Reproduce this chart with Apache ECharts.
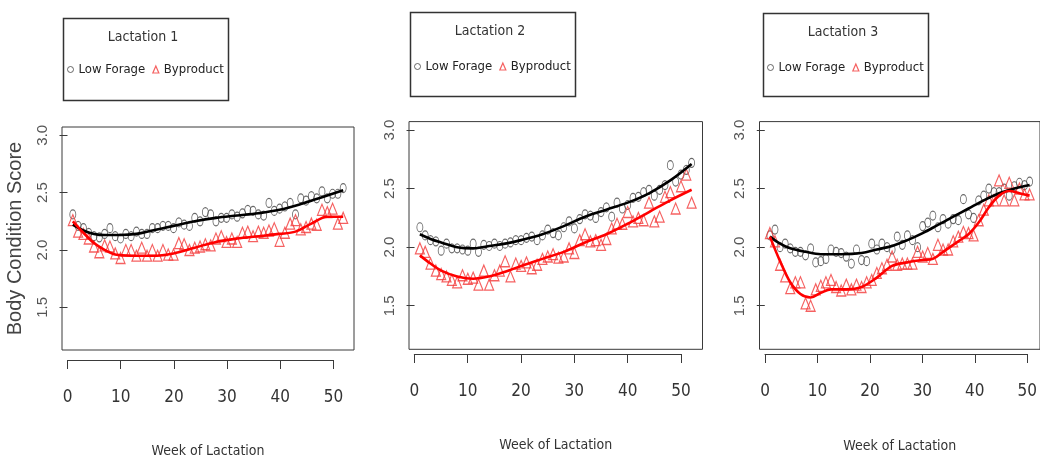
<!DOCTYPE html>
<html>
<head>
<meta charset="utf-8">
<script src="https://cdn.jsdelivr.net/npm/echarts@6/dist/echarts.min.js"></script>
<style>
html,body{margin:0;padding:0;background:#fff;}
#chart{width:1040px;height:459px;}
</style>
</head>
<body>
<div id="chart"></div>
<script>
// ---- data ----
const weeks = [1,2,3,4,5,6,7,8,9,10,11,12,13,14,15,16,17,18,19,20,21,22,23,24,25,26,27,28,29,30,31,32,33,34,35,36,37,38,39,40,41,42,43,44,45,46,47,48,49,50,51,52];
const panelTitles = ['Lactation 1','Lactation 2','Lactation 3'];
const seriesNames = ['Low Forage','Byproduct'];
const xTicks = [0,10,20,30,40,50];
const yTicks = [1.5,2.0,2.5,3.0];
const xLabel = 'Week of Lactation';
const yLabel = 'Body Condition Score';

// Lactation 1 observed weekly means
const lowForage1 = [2.31,2.21,2.19,2.15,2.12,2.11,2.14,2.19,2.12,2.10,2.14,2.12,2.16,2.14,2.14,2.19,2.19,2.21,2.21,2.19,2.24,2.22,2.21,2.28,2.25,2.33,2.31,2.25,2.28,2.28,2.31,2.29,2.32,2.35,2.34,2.31,2.30,2.41,2.34,2.36,2.38,2.41,2.31,2.45,2.43,2.47,2.45,2.51,2.45,2.49,2.49,2.54];
const byproduct1 = [2.26,2.16,2.14,2.10,2.03,1.98,2.04,2.03,1.97,1.93,2.00,2.00,1.95,2.02,1.95,2.00,1.95,2.00,1.96,1.96,2.06,2.05,2.00,2.02,2.03,2.05,2.04,2.10,2.12,2.07,2.10,2.07,2.15,2.16,2.12,2.16,2.15,2.17,2.19,2.08,2.15,2.23,2.26,2.18,2.20,2.23,2.22,2.35,2.33,2.36,2.23,2.28];
// Lactation 2
const lowForage2 = [2.17,2.10,2.06,2.05,1.97,2.03,1.99,1.99,1.98,1.97,2.03,1.96,2.02,2.01,2.03,2.01,2.03,2.04,2.06,2.06,2.08,2.09,2.06,2.10,2.15,2.12,2.10,2.17,2.22,2.16,2.24,2.28,2.27,2.25,2.30,2.34,2.26,2.38,2.33,2.36,2.42,2.43,2.47,2.49,2.44,2.49,2.53,2.70,2.56,2.62,2.66,2.72];
const byproduct2 = [1.99,1.96,1.86,1.80,1.77,1.75,1.72,1.70,1.76,1.73,1.74,1.68,1.80,1.68,1.76,1.80,1.88,1.75,1.86,1.84,1.87,1.82,1.85,1.90,1.92,1.94,1.91,1.92,1.99,1.95,2.06,2.11,2.05,2.06,2.02,2.07,2.16,2.20,2.20,2.30,2.22,2.25,2.23,2.38,2.22,2.26,2.43,2.47,2.33,2.52,2.62,2.38];
// Lactation 3
const lowForage3 = [2.10,2.15,2.00,2.03,1.99,1.96,1.96,1.93,1.99,1.87,1.88,1.90,1.98,1.96,1.95,1.92,1.86,1.98,1.89,1.88,2.03,1.98,2.03,2.00,1.98,2.09,2.02,2.10,2.06,2.00,2.18,2.21,2.27,2.17,2.24,2.20,2.24,2.23,2.41,2.28,2.25,2.40,2.44,2.50,2.47,2.47,2.50,2.44,2.52,2.55,2.53,2.56];
const byproduct3 = [2.12,2.05,1.85,1.75,1.65,1.70,1.70,1.52,1.50,1.64,1.67,1.70,1.72,1.66,1.63,1.68,1.64,1.68,1.66,1.70,1.72,1.78,1.82,1.85,1.92,1.85,1.86,1.86,1.86,1.96,1.92,1.95,1.90,2.02,1.98,1.98,2.05,2.09,2.13,2.12,2.10,2.23,2.32,2.40,2.40,2.57,2.40,2.55,2.40,2.50,2.45,2.45];

// smoothed curves (week, value)
const fitWeeksLF1 = [1,3,5,7,10,13,16,20,24,28,32,36,40,44,48,52];
const fitLF1      = [2.22,2.17,2.14,2.13,2.13,2.14,2.17,2.21,2.25,2.28,2.30,2.32,2.35,2.40,2.46,2.52];
const fitWeeksBP1 = [1,3,5,7,9,12,16,20,24,28,32,36,40,43,46,49,52];
const fitBP1      = [2.25,2.15,2.06,2.00,1.96,1.95,1.95,1.97,2.02,2.07,2.10,2.12,2.14,2.16,2.23,2.29,2.29];
const fitWeeksLF2 = [1,3,5,8,11,14,17,20,24,28,32,36,40,44,48,52];
const fitLF2      = [2.11,2.07,2.04,2.00,1.99,2.01,2.03,2.06,2.11,2.18,2.26,2.32,2.38,2.46,2.57,2.71];
const fitWeeksBP2 = [1,3,5,8,11,14,17,20,24,28,32,36,40,44,48,52];
const fitBP2      = [1.93,1.86,1.80,1.75,1.73,1.75,1.79,1.84,1.90,1.96,2.04,2.11,2.20,2.30,2.40,2.49];
const fitWeeksLF3 = [1,3,5,8,11,15,19,22,25,28,31,34,37,40,43,46,49,52];
const fitLF3      = [2.09,2.03,1.99,1.96,1.94,1.94,1.95,1.98,2.01,2.06,2.12,2.19,2.26,2.33,2.40,2.46,2.50,2.53];
const fitWeeksBP3 = [1,3,5,7,9,11,13,16,19,22,25,28,31,33,35,38,40,42,44,46,48,50,52];
const fitBP3      = [2.09,1.88,1.70,1.60,1.57,1.61,1.64,1.64,1.66,1.74,1.84,1.87,1.89,1.90,1.96,2.05,2.11,2.21,2.34,2.44,2.48,2.46,2.44];

const panels = [
  {lf: lowForage1, bp: byproduct1, fwLF: fitWeeksLF1, fLF: fitLF1, fwBP: fitWeeksBP1, fBP: fitBP1},
  {lf: lowForage2, bp: byproduct2, fwLF: fitWeeksLF2, fLF: fitLF2, fwBP: fitWeeksBP2, fBP: fitBP2},
  {lf: lowForage3, bp: byproduct3, fwLF: fitWeeksLF3, fLF: fitLF3, fwBP: fitWeeksBP3, fBP: fitBP3}
];

// ---- layout (pixels) ----
const layout = [
  {left: 62, top: 127, width: 292, height: 228, axisLeft: 67.5, axisWidth: 266, axisTop: 360, labelMargin: 29, nameGap: 94, legendBox: [61,16,165,82], titleX: 143, titleY: 37, legendLeft: 67, legendTop: 63, yName: true},
  {left: 409, top: 121.6, width: 293.5, height: 227.7, axisLeft: 414.3, axisWidth: 266.7, axisTop: 354, labelMargin: 29, nameGap: 89, legendBox: [408,10,165,84], titleX: 490, titleY: 31, legendLeft: 414, legendTop: 60, yName: false},
  {left: 759.5, top: 121.6, width: 293.5, height: 227.7, axisLeft: 765, axisWidth: 266.7, axisTop: 354, labelMargin: 29, nameGap: 90, legendBox: [761,11,165,83], titleX: 843, titleY: 32, legendLeft: 767, legendTop: 61, yName: false}
];

const narrow = "'Liberation Sans Narrow','Arial Narrow','DejaVu Sans Condensed',sans-serif";
const grids = [], xAxes = [], yAxes = [], series = [], legends = [], titles = [], graphics = [];

panels.forEach((p, i) => {
  const L = layout[i];
  const g = grids.length;
  grids.push({left: L.left, top: L.top, width: L.width, height: L.height, show: true, borderColor: '#3a3a3a', borderWidth: 1, backgroundColor: 'transparent', containLabel: false});
  grids.push({left: L.axisLeft, top: L.axisTop - 1, width: L.axisWidth, height: 1, show: false});
  xAxes.push({
    type: 'value', gridIndex: g, min: -1.04, max: 54.04,
    axisLine: {show: false}, axisTick: {show: false}, axisLabel: {show: false}, splitLine: {show: false},
    name: xLabel, nameLocation: 'middle', nameGap: L.nameGap,
    nameTextStyle: {fontFamily: narrow, fontSize: 14, color: '#333'}
  });
  xAxes.push({
    type: 'value', gridIndex: g + 1, min: 0, max: 50, interval: 10,
    axisLine: {show: true, lineStyle: {color: '#3a3a3a', width: 1}},
    axisTick: {show: true, length: 9, lineStyle: {color: '#3a3a3a'}},
    axisLabel: {show: true, margin: L.labelMargin, fontSize: 17, fontFamily: narrow, color: '#333', customValues: xTicks},
    splitLine: {show: false}
  });
  yAxes.push({
    type: 'value', gridIndex: g, min: 1.128, max: 3.072,
    axisLine: {show: false}, splitLine: {show: false},
    axisTick: {show: true, length: 8, customValues: yTicks, lineStyle: {color: '#3a3a3a'}},
    axisLabel: {show: true, rotate: 90, margin: 12, fontSize: 15, color: '#555', fontFamily: "'Liberation Sans',Arial,sans-serif",
      customValues: yTicks, formatter: v => v.toFixed(1)},
    name: L.yName ? yLabel : '', nameLocation: 'middle', nameRotate: 90, nameGap: 37,
    nameTextStyle: {fontFamily: "'Liberation Sans',Arial,sans-serif", fontSize: 20, color: '#444'}
  });
  yAxes.push({type: 'value', gridIndex: g + 1, min: 0, max: 1, show: false});

  const xi = g, yi = g;
  series.push({
    name: seriesNames[0], type: 'scatter', xAxisIndex: xi, yAxisIndex: yi,
    data: weeks.map((w, k) => [w, p.lf[k]]),
    symbol: 'circle', symbolSize: [6, 9],
    itemStyle: {color: 'rgba(0,0,0,0)', borderColor: '#444', borderWidth: 1}, z: 2, silent: true
  });
  series.push({
    name: seriesNames[1], type: 'scatter', xAxisIndex: xi, yAxisIndex: yi,
    data: weeks.map((w, k) => [w, p.bp[k]]),
    symbol: 'triangle', symbolSize: [9, 11],
    itemStyle: {color: 'rgba(0,0,0,0)', borderColor: '#f23a3a', borderWidth: 1.2}, z: 2, silent: true
  });
  series.push({
    name: seriesNames[0] + ' fit', type: 'line', xAxisIndex: xi, yAxisIndex: yi,
    data: p.fwLF.map((w, k) => [w, p.fLF[k]]), smooth: 0.35, showSymbol: false,
    lineStyle: {color: '#000', width: 2.6}, z: 4, silent: true
  });
  series.push({
    name: seriesNames[1] + ' fit', type: 'line', xAxisIndex: xi, yAxisIndex: yi,
    data: p.fwBP.map((w, k) => [w, p.fBP[k]]), smooth: 0.35, showSymbol: false,
    lineStyle: {color: '#ff0000', width: 2.6}, z: 4, silent: true
  });

  legends.push({
    left: L.legendLeft, top: L.legendTop, orient: 'horizontal', selectedMode: false,
    itemWidth: 6, itemHeight: 7, itemGap: 7, padding: 0,
    textStyle: {fontFamily: narrow, fontSize: 13, color: '#222'},
    data: [
      {name: seriesNames[0], icon: 'circle', itemStyle: {color: 'rgba(0,0,0,0)', borderColor: '#444', borderWidth: 1}},
      {name: seriesNames[1], icon: 'triangle', itemStyle: {color: 'rgba(0,0,0,0)', borderColor: '#f23a3a', borderWidth: 1.2}}
    ]
  });
  titles.push({
    text: panelTitles[i], left: L.titleX, top: L.titleY, textAlign: 'center', textVerticalAlign: 'middle', padding: 0,
    textStyle: {fontFamily: narrow, fontSize: 14, fontWeight: 'normal', color: '#333'}
  });
  const b = L.legendBox;
  graphics.push({type: 'rect', left: b[0], top: b[1], shape: {width: b[2], height: b[3]}, style: {fill: 'none', stroke: '#333', lineWidth: 1.5}, silent: true});
});

const chart = echarts.init(document.getElementById('chart'), null, {renderer: 'canvas'});
chart.setOption({
  backgroundColor: '#fff',
  animation: false,
  title: titles,
  legend: legends,
  grid: grids,
  xAxis: xAxes,
  yAxis: yAxes,
  series: series,
  graphic: graphics
});
</script>
</body>
</html>
